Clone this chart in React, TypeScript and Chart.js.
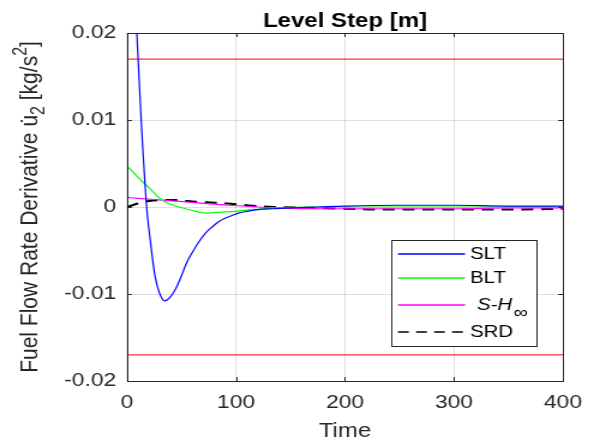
import React, { useEffect, useRef } from "react";
import { Chart, registerables } from "chart.js";

Chart.register(...registerables);

// ---- data ----
const SLT_T = [0, 4, 9, 13, 18, 21.5, 25.5, 29.5, 34.5, 40, 45, 50, 54, 60, 66, 72, 78, 84, 90, 96, 102, 110, 120, 135, 150, 175, 200, 250, 300, 350, 400];
const SLT_V = [0.05, 0.033, 0.02, 0.01, 0, -0.004, -0.0078, -0.0098, -0.0108, -0.0103, -0.0093, -0.0079, -0.0066, -0.0052, -0.004, -0.003, -0.0023, -0.0017, -0.0013, -0.001, -0.0007, -0.0005, -0.0003, -0.0002, -0.0001, 0, 0.0001, 0.0002, 0.0002, 0.0001, 0.0001];

const BLT_T = [0, 5, 10, 16, 22, 30, 38, 48, 60, 72, 85, 99, 115, 138, 170, 200, 250, 300, 350, 400];
const BLT_V = [0.0047, 0.0041, 0.0034, 0.0027, 0.002, 0.001, 0.0004, 0, -0.0004, -0.0007, -0.0006, -0.0005, -0.0003, -0.0001, 0, 0, 0, 0, 0, 0];

const SH_T = [0, 10, 32, 63, 93, 138, 183, 213, 250, 300, 350, 400];
const SH_V = [0.0011, 0.001, 0.0008, 0.0005, 0.0002, -0.0001, -0.0002, -0.0002, -0.0002, -0.0002, -0.0001, -0.0001];

const SRD_T = [0, 5, 12, 20, 32, 45, 63, 80, 102, 120, 138, 168, 200, 228, 260, 300, 350, 400];
const SRD_V = [0, 0.0002, 0.0005, 0.0007, 0.0008, 0.0008, 0.0006, 0.0005, 0.0003, 0.0001, 0, -0.0001, -0.0002, -0.0003, -0.0003, -0.0003, -0.0003, -0.0002];

const LIMIT_T = [0, 400];
const LIMIT_UP = [0.017, 0.017];
const LIMIT_LO = [-0.017, -0.017];

const X_TICKS = [0, 100, 200, 300, 400];
const X_TICK_LABELS = ["0", "100", "200", "300", "400"];
const Y_TICKS = [-0.02, -0.01, 0, 0.01, 0.02];
const Y_TICK_LABELS = ["-0.02", "-0.01", "0", "0.01", "0.02"];

const TITLE = "Level Step [m]";
const X_TITLE = "Time";
const LEGEND_NAMES = ["SLT", "BLT", "S-H", "SRD"];
const COLORS = ["#0000ff", "#00ff00", "#ff00ff", "#000000"];

// ---- layout (canvas coordinates; canvas is stretched 1.2x horizontally) ----
const SX = 1.2;
const CW = 495;
const CH = 443;
const FONT = "'Liberation Sans', Arial, sans-serif";
const AX = "#262626";

const pts = (t: number[], v: number[]) => t.map((x, i) => ({ x, y: v[i] }));

const decor = {
  id: "decor",
  afterDatasetsDraw(chart: any) {
    const { ctx, chartArea: a, scales } = chart;
    const xs = scales.x;
    const ys = scales.y;
    ctx.save();
    // box
    ctx.strokeStyle = AX;
    ctx.lineWidth = 1;
    ctx.strokeRect(Math.round(a.left) + 0.5, Math.round(a.top) + 0.5, Math.round(a.right - a.left), Math.round(a.bottom - a.top));
    // inward ticks
    ctx.beginPath();
    X_TICKS.forEach((t) => {
      const px = Math.round(xs.getPixelForValue(t)) + 0.5;
      ctx.moveTo(px, a.bottom);
      ctx.lineTo(px, a.bottom - 4);
      ctx.moveTo(px, a.top);
      ctx.lineTo(px, a.top + 4);
    });
    Y_TICKS.forEach((v) => {
      const py = Math.round(ys.getPixelForValue(v)) + 0.5;
      ctx.moveTo(a.left, py);
      ctx.lineTo(a.left + 4, py);
      ctx.moveTo(a.right, py);
      ctx.lineTo(a.right - 4, py);
    });
    ctx.stroke();

    // title
    ctx.fillStyle = "#000";
    ctx.font = `bold 20px ${FONT}`;
    ctx.textAlign = "center";
    ctx.textBaseline = "alphabetic";
    const cx = (a.left + a.right) / 2;
    ctx.fillText(TITLE, cx, 27);

    // x title
    ctx.fillStyle = AX;
    ctx.font = `20px ${FONT}`;
    ctx.fillText(X_TITLE, cx, 437);

    // y title (rotated) with sub/superscripts
    const parts: [string, number, number][] = [
      ["Fuel Flow Rate Derivative u\u0307", 21, 0],
      ["2", 16, 6],
      [" [kg/s", 21, 0],
      ["2", 16, -9],
      ["]", 21, 0],
    ];
    let total = 0;
    parts.forEach(([s, f]) => {
      ctx.font = `${f}px ${FONT}`;
      total += ctx.measureText(s).width;
    });
    ctx.translate(31, (a.top + a.bottom) / 2);
    ctx.rotate(-Math.PI / 2);
    ctx.textAlign = "left";
    let px = -total / 2;
    parts.forEach(([s, f, dy]) => {
      ctx.font = `${f}px ${FONT}`;
      ctx.fillText(s, px, dy);
      px += ctx.measureText(s).width;
    });
    ctx.setTransform(1, 0, 0, 1, 0, 0);

    // legend
    const lx0 = 391 / SX, lx1 = 536 / SX, ly0 = 240, ly1 = 346;
    ctx.fillStyle = "#fff";
    ctx.fillRect(lx0, ly0, lx1 - lx0, ly1 - ly0);
    ctx.strokeStyle = AX;
    ctx.lineWidth = 1;
    ctx.strokeRect(Math.round(lx0) + 0.5, ly0 + 0.5, Math.round(lx1 - lx0), ly1 - ly0);
    const rows = [254, 278, 305, 332];
    LEGEND_NAMES.forEach((name, i) => {
      const y = rows[i];
      ctx.beginPath();
      ctx.strokeStyle = COLORS[i];
      ctx.lineWidth = i === 3 ? 1.5 : 1.5;
      ctx.setLineDash(i === 3 ? [9, 6] : []);
      ctx.moveTo(398 / SX, y);
      ctx.lineTo(465 / SX, y);
      ctx.stroke();
      ctx.setLineDash([]);
      ctx.fillStyle = "#000";
      ctx.textBaseline = "middle";
      ctx.textAlign = "left";
      if (i === 2) {
        ctx.font = `italic 17px ${FONT}`;
        ctx.fillText(name, 477 / SX, rows[i]);
        const w = ctx.measureText(name).width;
        ctx.fillText("\u221E", 477 / SX + w + 1, rows[i] + 8);
      } else {
        ctx.font = `17px ${FONT}`;
        ctx.fillText(name, 470 / SX, rows[i]);
      }
    });
    ctx.restore();
  },
};

export default function App() {
  const ref = useRef<HTMLCanvasElement>(null);
  useEffect(() => {
    const canvas = ref.current!;
    const line = (label: string, t: number[], v: number[], color: string, extra: any = {}) => ({
      label,
      data: pts(t, v),
      borderColor: color,
      backgroundColor: color,
      borderWidth: 1.2,
      pointRadius: 0,
      fill: false,
      cubicInterpolationMode: "monotone",
      ...extra,
    });
    const chart = new Chart(canvas, {
      type: "line",
      data: {
        datasets: [
          line("SLT", SLT_T, SLT_V, COLORS[0]),
          line("BLT", BLT_T, BLT_V, COLORS[1]),
          line("S-H∞", SH_T, SH_V, COLORS[2]),
          line("SRD", SRD_T, SRD_V, COLORS[3], { borderWidth: 2, borderDash: [10, 6.5] }),
          line("upper", LIMIT_T, LIMIT_UP, "#ff0000", { cubicInterpolationMode: "default", borderWidth: 1 }),
          line("lower", LIMIT_T, LIMIT_LO, "#ff0000", { cubicInterpolationMode: "default", borderWidth: 1 }),
        ] as any,
      },
      options: {
        animation: false,
        responsive: false,
        devicePixelRatio: 1,
        layout: { padding: { left: 0, right: CW - 571 / SX, top: 33, bottom: 0 } },
        plugins: { legend: { display: false }, title: { display: false }, tooltip: { enabled: false } },
        scales: {
          x: {
            type: "linear",
            min: 0,
            max: 400,
            border: { display: false },
            grid: { color: "rgba(38,38,38,0.15)", drawTicks: false },
            afterBuildTicks: (s: any) => {
              s.ticks = X_TICKS.map((v) => ({ value: v }));
            },
            afterFit: (s: any) => {
              s.height = CH - 381;
            },
            ticks: {
              autoSkip: false,
              maxRotation: 0,
              padding: 10,
              color: AX,
              font: { family: FONT, size: 19 },
              callback: (_v: any, i: number) => X_TICK_LABELS[i],
            },
          },
          y: {
            type: "linear",
            min: -0.02,
            max: 0.02,
            border: { display: false },
            grid: { color: "rgba(38,38,38,0.15)", drawTicks: false },
            afterBuildTicks: (s: any) => {
              s.ticks = Y_TICKS.map((v) => ({ value: v }));
            },
            afterFit: (s: any) => {
              s.width = 127 / SX;
            },
            ticks: {
              autoSkip: false,
              padding: 9,
              color: AX,
              font: { family: FONT, size: 19 },
              callback: (_v: any, i: number) => Y_TICK_LABELS[i],
            },
          },
        },
      },
      plugins: [decor],
    });
    return () => chart.destroy();
  }, []);
  return (
    <div style={{ position: "fixed", left: 0, top: 0, width: 594, height: 443, background: "#fff", overflow: "hidden" }}>
      <canvas
        ref={ref}
        width={CW}
        height={CH}
        style={{ position: "absolute", left: 0, top: 0, transform: `scaleX(${SX})`, transformOrigin: "0 0" }}
      />
    </div>
  );
}
